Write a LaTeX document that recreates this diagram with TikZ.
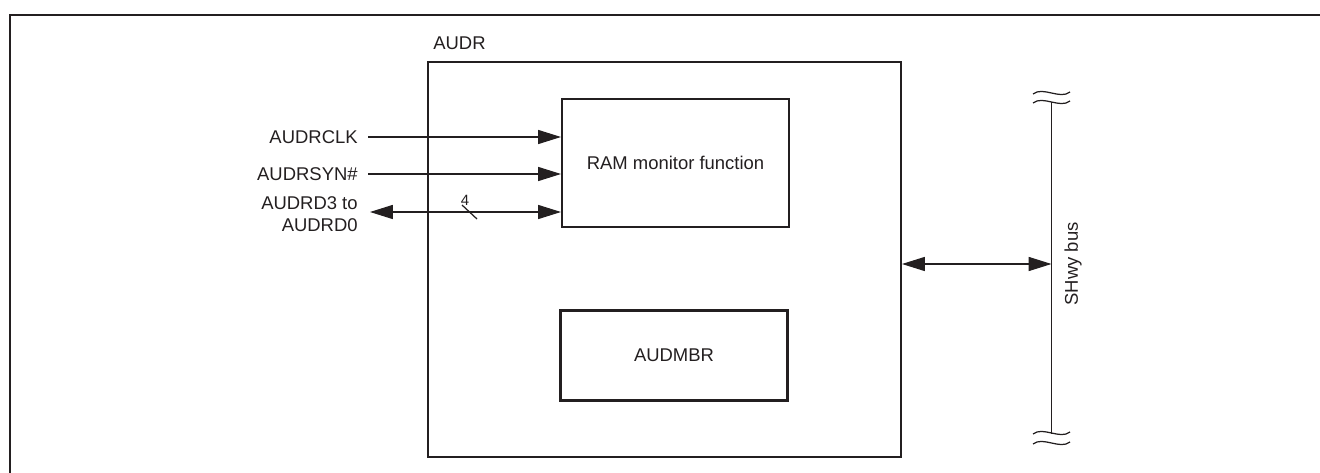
\documentclass[tikz,border=0pt]{standalone}
\usepackage{fontspec}
\setmainfont{Liberation Sans}
\usepackage{xcolor}
\usepackage{tikz}
\usetikzlibrary{arrows.meta,positioning,calc}
\definecolor{ink}{HTML}{231F20}
\tikzset{
  >={Triangle[length=13pt,width=8pt]},
  every node/.style={font=\fontsize{10.5}{12.6}\selectfont,text=ink},
  frame/.style={draw=ink,line width=1.5pt},
  blk/.style={draw=ink,line width=1.2pt,inner sep=0pt},
  sig/.style={->,draw=ink,line width=0.6pt},
  bidir/.style={<->,draw=ink,line width=0.6pt},
  bus/.style={draw=ink,line width=1.1pt},
  brk/.style={draw=ink,line width=0.7pt},
  pinlabel/.style={anchor=east,align=right,inner sep=0pt}
}

\begin{document}
\begin{tikzpicture}[x=0.02cm,y=-0.02cm]
  \useasboundingbox (0,0) rectangle (1320,473);
  \draw[frame] (10,473)--(10,15)--(1320,15);

  \node[blk,minimum width=9.46cm,minimum height=7.9cm] (audr) at (664.5,259.5) {};
  \node[anchor=base west,inner sep=0pt] (audrlbl) at (433,50) {AUDR};
  \node[blk,minimum width=4.54cm,minimum height=2.56cm] (ram) at (675.5,163) {RAM monitor function};
  \node[blk,minimum width=4.54cm,minimum height=1.8cm] (mbr) at (674,355.5) {AUDMBR};

  \node[pinlabel] (clk) at (358,137) {AUDRCLK};
  \node[pinlabel] (syn) at (358,174) {AUDRSYN\#};
  \node[pinlabel,font=\fontsize{10.5}{12.4}\selectfont] (dat) at (358,214) {AUDRD3 to\\AUDRD0};

  \coordinate (clkin) at (368,137);
  \coordinate (synin) at (368,174);
  \coordinate (datin) at (370,212);
  \draw[sig] (clkin)--(ram.west |- clkin);
  \draw[sig] (synin)--(ram.west |- synin);
  \draw[bidir] (datin)--(ram.west |- datin);
  \coordinate (tka) at (462,205);
  \coordinate (tkb) at (477,219);
  \draw[brk] (tka)--(tkb);
  \node[font=\fontsize{8.5}{10}\selectfont,inner sep=0pt] (width) at (465,200) {4};

  % bus with break marks
  \coordinate (bustop) at (1051.5,102);
  \coordinate (busbot) at (1051.5,434);
  \coordinate (busmid) at (1051.5,264);
  \draw[bus] (bustop)--(busbot);
  \foreach \y in {93,102,433,443}
    \draw[brk] (1033,\y+1) .. controls (1043,\y-7) and (1060,\y+7) .. (1070,\y-1);
  \draw[bidir] (audr.east |- busmid)--(busmid);
  \node[rotate=90,inner sep=0pt] (buslbl) at (1073,264) {SHwy bus};
\end{tikzpicture}
\end{document}
